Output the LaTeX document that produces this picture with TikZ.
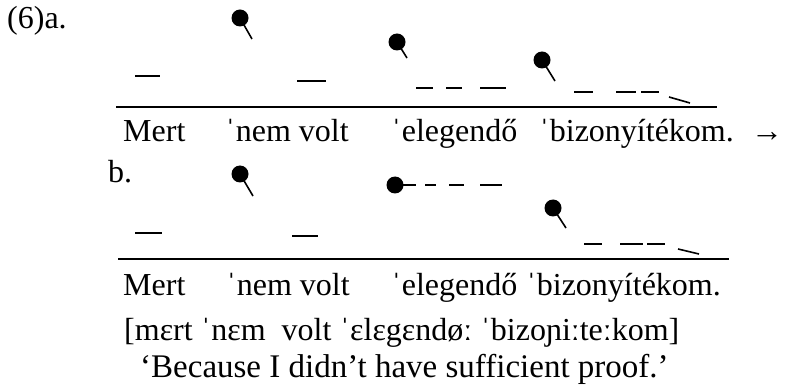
\documentclass[tikz,border=0pt]{standalone}
\usepackage{fontspec}
\setmainfont{Liberation Serif}
\begin{document}
\begin{tikzpicture}[x=1pt,y=-1pt,
  txt/.style={anchor=base west, inner sep=0pt, font=\fontsize{32}{34}\selectfont},
  tone/.style={line width=2pt},
  rulel/.style={line width=2pt},
  tail/.style={line width=1.6pt},
  dotr/.style={radius=8.5pt}]
\useasboundingbox (0,0) rectangle (786,387);

% ---------- (6)a ----------
\node[txt] (ex) at (7,29) {(6)a.};
\coordinate (aL) at (116,107); \coordinate (aR) at (717,107);
\draw[rulel] (aL) -- (aR);
\draw[tone] (135,76) -- (160,76);
\draw[tone] (297,81) -- (326,81);
\coordinate (ad1) at (240,18); \coordinate (at1) at (252,39);
\draw[tail] (ad1) -- (at1); \fill (ad1) circle[dotr];
\coordinate (ad2) at (397,42); \coordinate (at2) at (407,58);
\draw[tail] (ad2) -- (at2); \fill (ad2) circle[dotr];
\draw[tone] (416,88) -- (433,88);
\draw[tone] (446,88) -- (462,88);
\draw[tone] (480,88) -- (506,88);
\coordinate (ad3) at (542,60); \coordinate (at3) at (555,81);
\draw[tail] (ad3) -- (at3); \fill (ad3) circle[dotr];
\draw[tone] (574,92) -- (593,92);
\draw[tone] (616,92) -- (636,92);
\draw[tone] (641,92) -- (659,92);
\draw[tail] (669,97) -- (690,103);

\node[txt] (aw1) at (123,142) {Mert};
\node[txt] (aw2) at (225,142) {ˈnem volt};
\node[txt] (aw3) at (391,142) {ˈelegendő};
\node[txt] (aw4) at (539,142) {ˈbizonyítékom.};
\node[txt] (arr) at (751,142) {→};

% ---------- b ----------
\node[txt] (bl) at (108,183) {b.};
\coordinate (bL) at (118,259); \coordinate (bR) at (729,259);
\draw[rulel] (bL) -- (bR);
\draw[tone] (135,233) -- (162,233);
\draw[tone] (292,236) -- (318,236);
\coordinate (bd1) at (240,174); \coordinate (bt1) at (253,196);
\draw[tail] (bd1) -- (bt1); \fill (bd1) circle[dotr];
\coordinate (bd2) at (395,185);
\draw[tone] (bd2) -- (416,185); \fill (bd2) circle[dotr];
\draw[tone] (425,185) -- (436,185);
\draw[tone] (449,185) -- (464,185);
\draw[tone] (480,185) -- (502,185);
\coordinate (bd3) at (553,208); \coordinate (bt3) at (566,228);
\draw[tail] (bd3) -- (bt3); \fill (bd3) circle[dotr];
\draw[tone] (584,244) -- (602,244);
\draw[tone] (620,244) -- (643,244);
\draw[tone] (647,244) -- (665,244);
\draw[tail] (678,249) -- (699,254);

\node[txt] (bw1) at (123,295) {Mert};
\node[txt] (bw2) at (226,295) {ˈnem volt};
\node[txt] (bw3) at (391,295) {ˈelegendő};
\node[txt] (bw4) at (526,295) {ˈbizonyítékom.};
\node[txt] (ipa) at (124,340) {[mɛrt ˈnɛm\ \ volt ˈɛlɛgɛndøː ˈbizoɲiːteːkom]};
\node[txt, font=\fontsize{33}{35}\selectfont] (gl) at (140,377) {‘Because I didn’t have sufficient proof.’};
\end{tikzpicture}
\end{document}
